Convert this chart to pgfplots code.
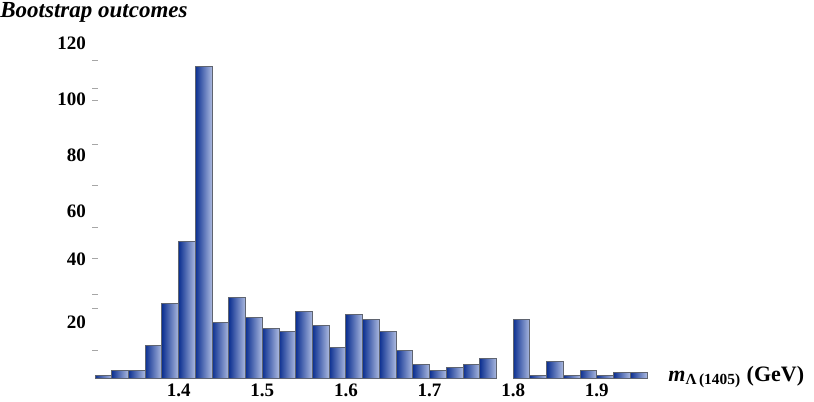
\documentclass[border=0pt]{standalone}
\usepackage{fontspec}
\setmainfont{Liberation Serif}
\usepackage{pgfplots}
\pgfplotsset{compat=1.18}

\definecolor{bardark}{RGB}{12,48,145}
\definecolor{barlight}{RGB}{172,186,224}
\definecolor{baredge}{RGB}{95,100,112}

% bootstrap histogram, bins of 0.02 GeV (bin centres)
\pgfplotstableread{
x    n
1.31 1
1.33 3
1.35 3
1.37 12
1.39 27
1.41 49
1.43 112
1.45 20
1.47 29
1.49 22
1.51 18
1.53 17
1.55 24
1.57 19
1.59 11
1.61 23
1.63 21
1.65 17
1.67 10
1.69 5
1.71 3
1.73 4
1.75 5
1.77 7
1.81 21
1.83 1
1.85 6
1.87 1
1.89 3
1.91 1
1.93 2
1.95 2
}\boot

\begin{document}
\begin{tikzpicture}
\begin{axis}[
  scale only axis,
  width=276pt, height=167.4pt,
  xmin=1.30, xmax=1.96,
  ymin=0, ymax=120,
  axis line style={draw=none},
  tick pos=left,
  xtick={1.4,1.5,1.6,1.7,1.8,1.9},
  xticklabels={1.4,1.5,1.6,1.7,1.8,1.9},
  xtick style={draw=none},
  ytick={20,42.8,60,80,100,120},
  yticklabels={20,40,60,80,100,120},
  ytick style={draw=none},
  extra y ticks={10,25,30,43,54,69,84,99.5,104,114},
  extra y tick labels={},
  extra y tick style={ytick style={draw=gray!70, line width=0.5pt}, major tick length=3pt, tick align=center},
  tick label style={font=\fontsize{9.5}{10}\selectfont\bfseries},
  /pgf/number format/assume math mode=true,
  xticklabel style={yshift=1pt},
  yticklabel style={xshift=-1pt},
  clip=false,
]
  % one plot per bar so that each bar gets its own gradient
  \pgfplotsinvokeforeach{0,...,31}{
    \addplot[ybar, bar width=0.02, bar shift=0pt,
      left color=bardark, right color=barlight,
      draw=baredge, line width=0.5pt,
      restrict expr to domain={\coordindex}{#1:#1}]
      table[x=x, y=n] {\boot};
  }

  \coordinate (ll) at (rel axis cs:0,0);
  \coordinate (ur) at (rel axis cs:1,1);
  \node[anchor=base west, inner sep=0pt, font=\fontsize{11}{12}\selectfont\bfseries]
    at ([xshift=10.5pt, yshift=-1.3pt]rel axis cs:1,0)
    {\textit{m}\textsubscript{Λ\,(1405)} (GeV)};
  \node[anchor=base west, inner sep=0pt, font=\fontsize{11.5}{12}\selectfont\bfseries\itshape]
    at ([xshift=-47.5pt, yshift=13.3pt]rel axis cs:0,1) {Bootstrap outcomes};
\end{axis}
\pgfresetboundingbox
\path[use as bounding box] ([xshift=-47.5pt, yshift=-11.25pt]ll) rectangle ([xshift=83.5pt, yshift=21.85pt]ur);
\end{tikzpicture}
\end{document}
